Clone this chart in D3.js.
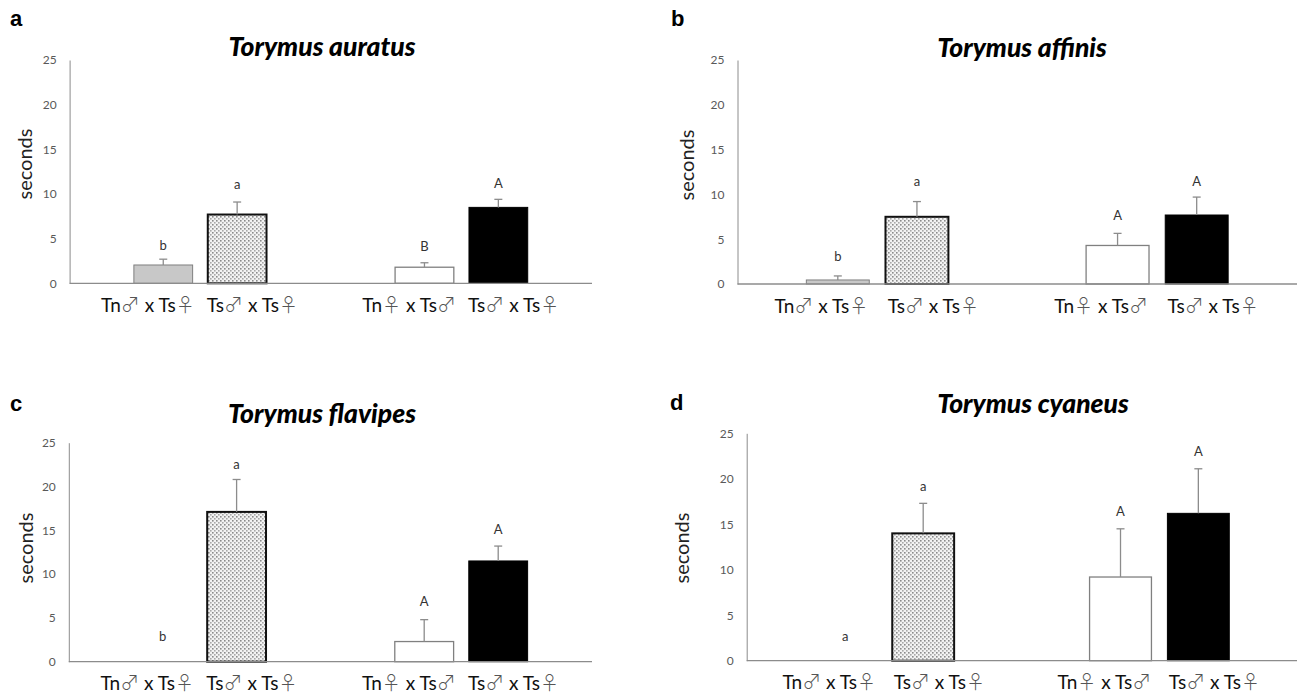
<!DOCTYPE html>
<html>
  <head>
    <meta charset="utf-8" />
    <script src="https://d3js.org/d3.v7.min.js"></script>
    <title>Torymus mating</title>
    <style>
        body { margin: 0; background: #fff; }
        svg { display: block; }
        text { font-family: Lato, "Open Sans", sans-serif; }
        .sym { font-family: "Noto Sans CJK SC", "DejaVu Sans", sans-serif; font-weight: 300; }
    </style>
  </head>
  <body>

    <svg id="chart" width="1297" height="696"></svg>

    <script>
    // chart data
        var groups = ["g1", "g2"];
        var categories = ["Tn\u2642 x Ts\u2640", "Ts\u2642 x Ts\u2640", "Tn\u2640 x Ts\u2642", "Ts\u2642 x Ts\u2640"];
        var species = ["Torymus auratus", "Torymus affinis", "Torymus flavipes", "Torymus cyaneus"];
        var panelLetters = ["a", "b", "c", "d"];
        var yTicks = [0, 5, 10, 15, 20, 25];

        var meanA = [2.05, 7.7, 1.8, 8.5];
        var seA = [0.65, 1.4, 0.5, 0.9];
        var lettersA = ["b", "a", "B", "A"];
        var letterPosA = [4.2, 11.1, 4.1, 11.2];

        var meanB = [0.45, 7.5, 4.3, 7.7];
        var seB = [0.45, 1.7, 1.35, 2.0];
        var lettersB = ["b", "a", "A", "A"];
        var letterPosB = [3.05, 11.4, 7.7, 11.4];

        var meanC = [0, 17.1, 2.3, 11.5];
        var seC = [0, 3.7, 2.5, 1.7];
        var lettersC = ["b", "a", "A", "A"];
        var letterPosC = [2.85, 22.5, 6.85, 15.1];

        var meanD = [0, 14.0, 9.2, 16.2];
        var seD = [0, 3.3, 5.3, 4.9];
        var lettersD = ["a", "a", "A", "A"];
        var letterPosD = [2.65, 19.2, 16.4, 23.0];

        // layout of the four panels
        var panels = [
            {left: 69.6, right: 592, top: 60, bottom: 283.3, titleX: 322, titleY: 56, tagX: 10, tagY: 26, ylabX: 25, ylabY: 164,
             mean: meanA, se: seA, letters: lettersA, letterPos: letterPosA},
            {left: 737.5, right: 1297, top: 60, bottom: 284, titleX: 1022, titleY: 57, tagX: 671, tagY: 26, ylabX: 687, ylabY: 165,
             mean: meanB, se: seB, letters: lettersB, letterPos: letterPosB},
            {left: 68.8, right: 592, top: 442.7, bottom: 661.7, titleX: 322, titleY: 423, tagX: 10, tagY: 411, ylabX: 26, ylabY: 548,
             mean: meanC, se: seC, letters: lettersC, letterPos: letterPosC},
            {left: 746.7, right: 1297, top: 433.3, bottom: 660.7, titleX: 1033, titleY: 413, tagX: 670, tagY: 410, ylabX: 682, ylabY: 548,
             mean: meanD, se: seD, letters: lettersD, letterPos: letterPosD}
        ];

        var barStyles = [
            {fill: "#c8c8c8", stroke: "#7f7f7f", width: 1},
            {fill: "url(#dots)", stroke: "#111", width: 2},
            {fill: "#fff", stroke: "#808080", width: 1.3},
            {fill: "#000", stroke: "#000", width: 1}
        ];

        var svg = d3.select("#chart");

        // dotted fill for the second bar
        var pat = svg.append("defs").append("pattern")
            .attr("id", "dots")
            .attr("patternUnits", "userSpaceOnUse")
            .attr("width", 4).attr("height", 4);
        pat.append("rect").attr("width", 4).attr("height", 4).attr("fill", "#f2f2f2");
        pat.append("rect").attr("x", 0).attr("y", 0).attr("width", 1.6).attr("height", 1.6).attr("fill", "#8a8a8a");
        pat.append("rect").attr("x", 2).attr("y", 2).attr("width", 1.6).attr("height", 1.6).attr("fill", "#a8a8a8");

        panels.forEach(function(p, i){

            var g = svg.append("g");

            var y = d3.scaleLinear().domain([0, 25]).range([p.bottom, p.top]);
            var gx = d3.scaleBand().domain(groups).range([p.left, p.right]).padding(0);
            var inner = d3.scaleBand().domain([0, 1]).range([0, gx.bandwidth()])
                .paddingInner(0.205).paddingOuter(0.87);
            var labelX = d3.scalePoint().domain([0, 1]).range([0, gx.bandwidth()]).padding(0.75);

            var rows = p.mean.map(function(m, k){
                return {k: k, group: groups[Math.floor(k / 2)], pos: k % 2, mean: m, se: p.se[k],
                        letter: p.letters[k], letterPos: p.letterPos[k], cat: categories[k]};
            });

            // panel tag and title
            g.append("text").attr("x", p.tagX).attr("y", p.tagY)
                .style("font-family", "'Liberation Sans', Arial, sans-serif")
                .style("font-weight", "bold").style("font-size", "22px")
                .text(panelLetters[i]);

            g.append("text").attr("x", p.titleX).attr("y", p.titleY)
                .attr("text-anchor", "middle")
                .style("font-weight", "900").style("font-style", "italic").style("font-size", "26.5px")
                .text(species[i]);

            g.append("text")
                .attr("transform", "translate(" + p.ylabX + "," + p.ylabY + ") rotate(-90)")
                .attr("text-anchor", "middle").attr("dy", "0.35em")
                .style("font-size", "20px").style("fill", "#222")
                .text("seconds");

            // y axis
            var yAxis = d3.axisLeft(y).tickValues(yTicks).tickSize(0).tickPadding(13);
            var ya = g.append("g").attr("transform", "translate(" + p.left + ",0)").call(yAxis);
            ya.select(".domain").attr("stroke", "#8c8c8c");
            ya.selectAll("text").style("font-family", "Lato, sans-serif").style("font-size", "12px").attr("fill", "#595959");

            // bars
            g.selectAll("rect.bar")
                .data(rows.filter(function(d){ return d.mean > 0; }))
                .enter().append("rect")
                .attr("class", "bar")
                .attr("x", function(d){ return gx(d.group) + inner(d.pos); })
                .attr("width", inner.bandwidth())
                .attr("y", function(d){ return y(d.mean); })
                .attr("height", function(d){ return y(0) - y(d.mean); })
                .attr("fill", function(d){ return barStyles[d.k].fill; })
                .attr("stroke", function(d){ return barStyles[d.k].stroke; })
                .attr("stroke-width", function(d){ return barStyles[d.k].width; });

            // error bars (upper only)
            var eb = g.selectAll("g.err")
                .data(rows.filter(function(d){ return d.se > 0; }))
                .enter().append("g").attr("class", "err")
                .attr("stroke", "#8c8c8c").attr("stroke-width", 1.3);
            eb.append("line")
                .attr("x1", function(d){ return gx(d.group) + inner(d.pos) + inner.bandwidth() / 2; })
                .attr("x2", function(d){ return gx(d.group) + inner(d.pos) + inner.bandwidth() / 2; })
                .attr("y1", function(d){ return y(d.mean); })
                .attr("y2", function(d){ return y(d.mean + d.se); });
            eb.append("line")
                .attr("x1", function(d){ return gx(d.group) + inner(d.pos) + inner.bandwidth() / 2 - 4; })
                .attr("x2", function(d){ return gx(d.group) + inner(d.pos) + inner.bandwidth() / 2 + 4; })
                .attr("y1", function(d){ return y(d.mean + d.se); })
                .attr("y2", function(d){ return y(d.mean + d.se); });

            // x axis line
            g.append("line")
                .attr("x1", p.left).attr("x2", p.right)
                .attr("y1", y(0)).attr("y2", y(0))
                .attr("stroke", "#8c8c8c").attr("stroke-width", 1.3);

            // significance letters
            g.selectAll("text.sig")
                .data(rows)
                .enter().append("text").attr("class", "sig")
                .attr("x", function(d){ return gx(d.group) + inner(d.pos) + inner.bandwidth() / 2; })
                .attr("y", function(d){ return y(d.letterPos); })
                .attr("dy", "0.35em").attr("text-anchor", "middle")
                .style("font-size", "13px").style("fill", "#333")
                .text(function(d){ return d.letter; });

            // category labels, sex symbols in a separate tspan
            var cats = g.selectAll("text.cat")
                .data(rows)
                .enter().append("text").attr("class", "cat")
                .attr("x", function(d){ return gx(d.group) + labelX(d.pos); })
                .attr("y", p.bottom + 28.5)
                .attr("text-anchor", "middle")
                .style("font-size", "19px").style("fill", "#111");
            cats.each(function(d){
                var t = d3.select(this);
                d.cat.split(/([\u2640\u2642])/).forEach(function(part){
                    if (part === "") return;
                    var isSym = part === "\u2640" || part === "\u2642";
                    t.append("tspan")
                        .attr("class", isSym ? "sym" : null)
                        .style("fill", isSym ? "#555" : null)
                        .text(part);
                });
            });
        });

    </script>

  </body>
</html>
